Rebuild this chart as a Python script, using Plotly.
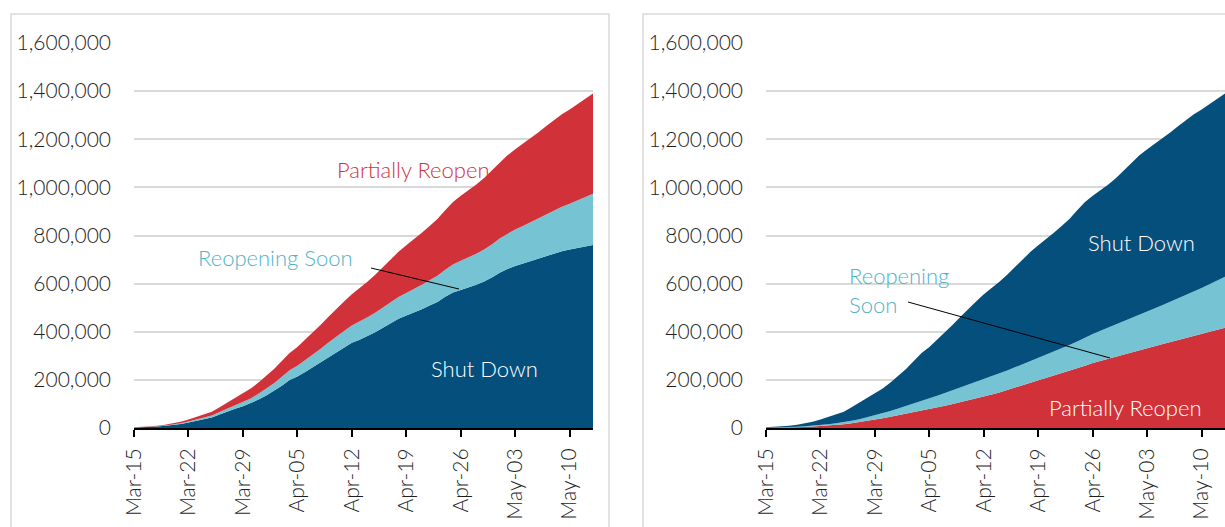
import pandas as pd
import plotly.graph_objects as go

# Daily dates, Mar-15 through May-13
dates = pd.date_range("2020-03-15", "2020-05-13", freq="D")

# Cumulative cases (thousands) by state reopening status
shut_down = [2.4, 3.0, 4.0, 5.9, 8.9, 12.5, 16.7, 22.9, 30.3, 36.5,
             44, 56, 68.5, 79.5, 90, 102.5, 118, 135, 154, 176,
             199, 214, 233, 253, 272.5, 294, 316, 335, 354, 367,
             382, 398, 417, 436, 454, 468, 480, 494, 509, 524,
             545, 563, 574, 584, 595, 608.5, 625, 645.5, 661, 673,
             683, 693.5, 704, 716, 726, 735, 742, 748, 755, 761]
reopening_soon = [0.4, 0.6, 0.9, 1.3, 1.9, 2.6, 3.3, 4, 5.2, 6.5,
                  8, 10, 12, 14.5, 17, 20.5, 24, 28, 32, 36.5,
                  41, 45, 49, 53, 57, 61, 65, 68.5, 72, 75,
                  78, 81, 84, 87, 90, 93, 97, 101, 105, 109,
                  113, 117, 121, 125, 129, 133.5, 138, 142.5, 147, 152,
                  157, 162.5, 168, 173.5, 179, 184.5, 190, 197, 204, 212]
partially_reopen = [0.8, 1.1, 1.5, 2.2, 3.2, 4.5, 6.0, 8.0, 10.5, 13,
                    16, 20, 24.5, 30, 36, 41, 47, 53, 59, 65.5,
                    72, 78, 85, 92, 99.5, 107, 115, 122.5, 130, 139,
                    148, 158, 168, 178, 188, 198, 207, 216, 226, 236,
                    247, 259, 270, 279, 288, 297, 306, 315, 325, 333,
                    341, 349, 357, 366, 375, 384, 392, 400, 408, 417]

tick_dates = ["2020-03-15", "2020-03-22", "2020-03-29", "2020-04-05", "2020-04-12",
              "2020-04-19", "2020-04-26", "2020-05-03", "2020-05-10"]
y_ticks = [0, 200000, 400000, 600000, 800000, 1000000, 1200000, 1400000, 1600000]

C_SHUT = "#054f7c"
C_SOON = "#76c3d3"
C_PART = "#d13239"
C_SOON_TXT = "#4fb3c8"
C_TXT = "#1e1e1e"
FONT = "Lato"

W, H = 1225, 527


def px(x):
    return x / W


def py(y):
    return 1 - y / H


def k(vals):
    return [v * 1000 for v in vals]


fig = go.Figure()

left_order = [("Shut Down", shut_down, C_SHUT),
              ("Reopening Soon", reopening_soon, C_SOON),
              ("Partially Reopen", partially_reopen, C_PART)]
right_order = [("Partially Reopen", partially_reopen, C_PART),
               ("Reopening Soon", reopening_soon, C_SOON),
               ("Shut Down", shut_down, C_SHUT)]

for name, vals, col in left_order:
    fig.add_trace(go.Scatter(x=dates, y=k(vals), name=name, mode="lines",
                             stackgroup="left", line=dict(width=0, color=col),
                             fillcolor=col, xaxis="x", yaxis="y", showlegend=False))
for name, vals, col in right_order:
    fig.add_trace(go.Scatter(x=dates, y=k(vals), name=name, mode="lines",
                             stackgroup="right", line=dict(width=0, color=col),
                             fillcolor=col, xaxis="x2", yaxis="y2", showlegend=False))

ydom = [py(428), py(43)]

xcommon = dict(type="date", range=["2020-03-15", "2020-05-13"],
               tickvals=tick_dates, tickformat="%b-%d", tickangle=-90,
               ticks="outside", ticklen=7, tickwidth=2, tickcolor="black",
               showline=True, linecolor="black", linewidth=2,
               showgrid=False, zeroline=False, fixedrange=True, automargin=False,
               tickfont=dict(family=FONT, size=21, color=C_TXT, weight=300),
               ticklabelstandoff=3)
ycommon = dict(range=[0, 1600000], tickvals=y_ticks, tickformat=",d",
               showgrid=True, gridcolor="#d9d9d9", gridwidth=1.5,
               zeroline=False, showline=False, ticks="", automargin=False,
               tickfont=dict(family=FONT, size=21, color=C_TXT, weight=300),
               ticklabelstandoff=22, fixedrange=True)

fig.update_layout(
    width=W, height=H,
    margin=dict(l=0, r=0, t=0, b=0, autoexpand=False),
    paper_bgcolor="white", plot_bgcolor="white",
    xaxis=dict(domain=[px(134), px(593)], anchor="y", **xcommon),
    yaxis=dict(domain=ydom, anchor="x", **ycommon),
    xaxis2=dict(domain=[px(766), 1.0], anchor="y2", **xcommon),
    yaxis2=dict(domain=ydom, anchor="x2", **ycommon),
    font=dict(family=FONT),
)

# Panel borders
border = dict(color="#d9d9d9", width=1.5)
fig.add_shape(type="rect", xref="paper", yref="paper",
              x0=px(11), x1=px(609), y0=-0.05, y1=py(14), line=border, layer="below")
fig.add_shape(type="rect", xref="paper", yref="paper",
              x0=px(643), x1=1.05, y0=-0.05, y1=py(14), line=border, layer="below")

# Leader lines
fig.add_shape(type="line", xref="paper", yref="paper",
              x0=px(371), y0=py(268), x1=px(459), y1=py(289),
              line=dict(color="black", width=1))
fig.add_shape(type="line", xref="paper", yref="paper",
              x0=px(908), y0=py(302), x1=px(1110), y1=py(358),
              line=dict(color="black", width=1))


def label(text, x, y, color, xanchor="center", align="center"):
    fig.add_annotation(text=text, x=px(x), y=py(y), xref="paper", yref="paper",
                       showarrow=False, xanchor=xanchor, yanchor="middle", align=align,
                       font=dict(family=FONT, size=22, color=color, weight=300))


label("Partially Reopen", 413, 170, C_PART)
label("Reopening Soon", 275, 257, C_SOON_TXT)
label("Shut Down", 485, 368, "white")
label("Shut Down", 1141, 242, "white")
label("Reopening<br>Soon", 847, 290, C_SOON_TXT, xanchor="left", align="left")
label("Partially Reopen", 1125, 407, "white")

fig.write_html("out.html")
